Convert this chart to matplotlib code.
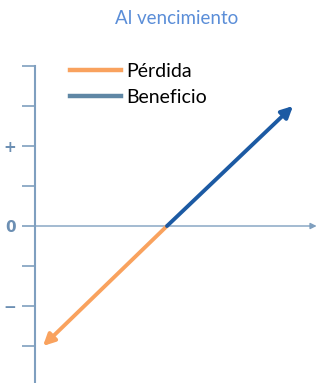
import matplotlib
matplotlib.use("Agg")
from matplotlib import pyplot as plt
from matplotlib.lines import Line2D

# Datos del gráfico (unidades arbitrarias)
strike = 3.3
perdida_x = [strike, 0.2]
perdida_y = [0.0, -3.0]
beneficio_x = [strike, 6.45]
beneficio_y = [0.0, 3.0]
ytick_pos = [-3, -2, -1, 0, 1, 2, 3, 4]
ytick_lbl = ['', '\u2212', '', '0', '', '+', '', '']
titulo = 'Al vencimiento'
series = ['Pérdida', 'Beneficio']

c_naranja = '#F9A25E'
c_azul = '#1C5AA3'
c_azul_leyenda = '#5F87A5'
c_eje = '#7F9FBF'
c_label = '#6C8FB3'

plt.rcParams['font.family'] = ['Lato', 'DejaVu Sans']

fig = plt.figure(figsize=(3.18, 3.83), dpi=100)
W, H = 318, 383
ax = fig.add_axes([35 / W, 0, (318 - 35) / W, (383 - 66) / H])
ax.set_xlim(0, (318 - 35) / 40)
ax.set_ylim(-(383 - 226) / 40, 4)

# Ejes
for s in ['top', 'right', 'bottom']:
    ax.spines[s].set_visible(False)
ax.spines['left'].set_color(c_eje)
ax.spines['left'].set_linewidth(1.5)
ax.set_xticks([])
ax.set_yticks(ytick_pos)
ax.set_yticklabels(ytick_lbl, color=c_label, fontsize=11, fontweight='bold',
                   family='DejaVu Sans')
ax.tick_params(axis='y', length=9.5, width=1.2, color=c_eje, pad=4)
ax.annotate('', xy=(1.0, 0), xycoords=('axes fraction', 'data'),
            xytext=(0, 0), textcoords=('axes fraction', 'data'),
            arrowprops=dict(arrowstyle='-|>', color=c_eje, lw=1.0,
                            mutation_scale=9, shrinkA=0, shrinkB=1))

# Flechas de pérdida y beneficio
ax.annotate('', xy=(perdida_x[1], perdida_y[1]), xytext=(perdida_x[0], perdida_y[0]),
            arrowprops=dict(arrowstyle='-|>', color=c_naranja, lw=2.8,
                            mutation_scale=17, shrinkA=0, shrinkB=0))
ax.annotate('', xy=(beneficio_x[1], beneficio_y[1]), xytext=(beneficio_x[0], beneficio_y[0]),
            arrowprops=dict(arrowstyle='-|>', color=c_azul, lw=2.8,
                            mutation_scale=17, shrinkA=0, shrinkB=0))

# Leyenda
handles = [Line2D([], [], color=c_naranja, lw=3.2),
           Line2D([], [], color=c_azul_leyenda, lw=3.2)]
fig.legend(handles, series, loc='upper left', bbox_to_anchor=(70 / W, 1 - 63 / H),
           frameon=False, fontsize=14, handlelength=2.6, handletextpad=0.3,
           labelspacing=0.45, borderaxespad=0, borderpad=0)

fig.text(177 / W, 1 - 18 / H, titulo, ha='center', va='center',
         color='#5B8ED8', fontsize=13.5)

fig.savefig('out.png', dpi=100)
